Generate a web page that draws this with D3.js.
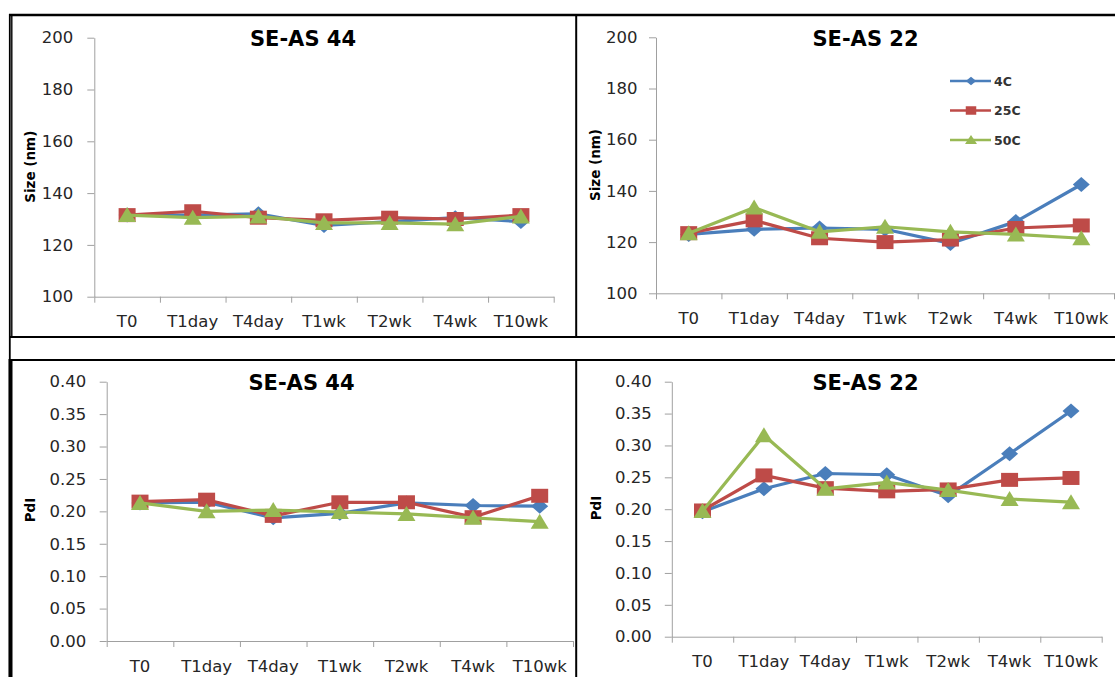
<!DOCTYPE html>
<html>
<head>
<meta charset="utf-8">
<script src="https://cdn.jsdelivr.net/npm/d3@7"></script>
<style>
  html, body { margin: 0; padding: 0; background: #fff; }
  svg { display: block; }
  .tick text { font-family: "DejaVu Sans", sans-serif; font-size: 16.5px; fill: #262626; }
</style>
</head>
<body>
<svg id="chart" width="1115" height="677"></svg>
<script>
// Sampling points
const categories = ["T0", "T1day", "T4day", "T1wk", "T2wk", "T4wk", "T10wk"];
const seriesNames = ["4C", "25C", "50C"];

// Particle size (nm), formulation SE-AS 44
const size44_4C  = [131.5, 131.5, 132.0, 127.5, 129.0, 130.5, 129.0];
const size44_25C = [131.5, 133.0, 130.5, 129.5, 130.5, 130.0, 131.5];
const size44_50C = [131.5, 130.5, 131.0, 128.5, 128.5, 128.0, 131.0];

// Particle size (nm), formulation SE-AS 22
const size22_4C  = [123.0, 125.0, 125.5, 125.0, 119.5, 128.0, 142.5];
const size22_25C = [123.5, 128.5, 121.5, 120.0, 121.0, 125.5, 126.5];
const size22_50C = [123.5, 133.5, 124.0, 126.0, 124.0, 123.0, 121.5];

// Polydispersity index, SE-AS 44
const pdi44_4C  = [0.213, 0.214, 0.190, 0.197, 0.213, 0.209, 0.208];
const pdi44_25C = [0.215, 0.218, 0.193, 0.214, 0.214, 0.191, 0.224];
const pdi44_50C = [0.213, 0.200, 0.202, 0.199, 0.196, 0.190, 0.184];

// Polydispersity index, SE-AS 22
const pdi22_4C  = [0.196, 0.232, 0.256, 0.254, 0.221, 0.287, 0.354];
const pdi22_25C = [0.198, 0.253, 0.233, 0.228, 0.231, 0.246, 0.249];
const pdi22_50C = [0.197, 0.316, 0.232, 0.242, 0.230, 0.216, 0.211];

// Axis tick values
const sizeTicks = [100, 120, 140, 160, 180, 200];
const pdiTicks = [0, 0.05, 0.10, 0.15, 0.20, 0.25, 0.30, 0.35, 0.40];

const colors = ["#4A7EBB", "#BE4B48", "#98B954"];

// Marker shapes (width / height in px)
function markerPath(kind, w, h) {
  const a = w / 2, b = h / 2;
  if (kind === 0) return `M0,${-b}L${a},0L0,${b}L${-a},0Z`;
  if (kind === 1) return `M${-a},${-b}H${a}V${b}H${-a}Z`;
  return `M0,${-b - 1}L${a},${b}L${-a},${b}Z`;
}
const markerSize = [[17, 15], [17, 14], [18, 14]];

const svg = d3.select("#chart");
svg.append("rect").attr("width", 1115).attr("height", 677).attr("fill", "#fff");

const panels = [
  { title: "SE-AS 44", yLabel: "Size (nm)", series: [size44_4C, size44_25C, size44_50C],
    domain: [100, 200], ticks: sizeTicks, fmt: d3.format("d"),
    x0: 94.3, x1: 553.7, yTop: 37.7, yBot: 296.7, pad: 14, tx: 303, ty: 45.5, lx: 34.5, ly: 166.7 },
  { title: "SE-AS 22", yLabel: "Size (nm)", series: [size22_4C, size22_25C, size22_50C],
    domain: [100, 200], ticks: sizeTicks, fmt: d3.format("d"),
    x0: 656, x1: 1114, yTop: 37.3, yBot: 293.3, pad: 11.5, tx: 865.5, ty: 45.5, lx: 599.5, ly: 165, legend: true },
  { title: "SE-AS 44", yLabel: "PdI", series: [pdi44_4C, pdi44_25C, pdi44_50C],
    domain: [0, 0.4], ticks: pdiTicks, fmt: d3.format(".2f"),
    x0: 106.7, x1: 573, yTop: 381.7, yBot: 641, pad: 13.5, tx: 301.5, ty: 390, lx: 34.5, ly: 510 },
  { title: "SE-AS 22", yLabel: "PdI", series: [pdi22_4C, pdi22_25C, pdi22_50C],
    domain: [0, 0.4], ticks: pdiTicks, fmt: d3.format(".2f"),
    x0: 671.8, x1: 1101.7, yTop: 381.7, yBot: 636.7, pad: 13, tx: 865.5, ty: 390, lx: 601, ly: 508 }
];

panels.forEach(p => {
  const g = svg.append("g");
  const x = d3.scaleBand().domain(categories).range([p.x0, p.x1]).padding(0);
  const xb = d3.scaleLinear().domain([0, categories.length]).range([p.x0, p.x1]);
  const y = d3.scaleLinear().domain(p.domain).range([p.yBot, p.yTop]);

  // value axis
  const ya = g.append("g").attr("transform", `translate(${p.x0},0)`)
    .call(d3.axisLeft(y).tickValues(p.ticks).tickFormat(p.fmt).tickSize(7).tickSizeOuter(0).tickPadding(p.pad));
  ya.select(".domain").attr("stroke", "#a0a0a0");
  ya.selectAll(".tick line").attr("stroke", "#a0a0a0");

  // category axis: boundary ticks
  const xa = g.append("g").attr("transform", `translate(0,${p.yBot})`)
    .call(d3.axisBottom(xb).tickValues(d3.range(categories.length + 1)).tickFormat("").tickSize(6).tickSizeOuter(0));
  xa.select(".domain").attr("stroke", "#a0a0a0");
  xa.selectAll(".tick line").attr("stroke", "#a0a0a0");

  // category labels
  const xl = g.append("g").attr("transform", `translate(0,${p.yBot})`)
    .call(d3.axisBottom(x).tickSize(0));
  xl.select(".domain").remove();
  xl.selectAll(".tick text").attr("y", 0).attr("dy", 30.5);

  // title
  g.append("text").attr("x", p.tx).attr("y", p.ty).attr("text-anchor", "middle")
    .attr("font-family", "DejaVu Sans, sans-serif").attr("font-weight", "bold")
    .attr("font-size", 21).attr("fill", "#000").text(p.title);

  // y axis title
  g.append("text").attr("transform", `translate(${p.lx},${p.ly}) rotate(-90)`)
    .attr("text-anchor", "middle").attr("font-family", "DejaVu Sans, sans-serif")
    .attr("font-weight", "bold").attr("font-size", 13.5).attr("fill", "#000").text(p.yLabel);

  // series: line then markers, one series after another
  const line = d3.line().x((d, i) => x(categories[i]) + x.bandwidth() / 2).y(d => y(d));
  p.series.forEach((vals, si) => {
    const sg = g.append("g");
    sg.append("path").datum(vals).attr("d", line).attr("fill", "none")
      .attr("stroke", colors[si]).attr("stroke-width", 3.2).attr("stroke-linejoin", "round");
    sg.selectAll("path.m").data(vals).join("path").attr("class", "m")
      .attr("transform", (d, i) => `translate(${x(categories[i]) + x.bandwidth() / 2},${y(d)})`)
      .attr("d", markerPath(si, markerSize[si][0], markerSize[si][1]))
      .attr("fill", colors[si]);
  });

  if (p.legend) {
    const lg = g.append("g");
    const ly = [81, 110.5, 140];
    seriesNames.forEach((name, si) => {
      lg.append("line").attr("x1", 950).attr("x2", 991).attr("y1", ly[si]).attr("y2", ly[si])
        .attr("stroke", colors[si]).attr("stroke-width", 2.6);
      lg.append("path").attr("transform", `translate(971,${ly[si]})`)
        .attr("d", markerPath(si, si === 2 ? 12 : 10.5, si === 2 ? 8 : 8.5)).attr("fill", colors[si]);
      lg.append("text").attr("x", 994).attr("y", ly[si] + 4.8)
        .attr("font-family", "DejaVu Sans, sans-serif").attr("font-weight", "bold")
        .attr("font-size", 12.5).attr("fill", "#333").text(name);
    });
  }
});

// frame lines separating the panels
const frame = svg.append("g").attr("stroke", "#000").attr("fill", "none");
frame.append("line").attr("x1", 9).attr("x2", 1115).attr("y1", 15).attr("y2", 15).attr("stroke-width", 2.5);
frame.append("line").attr("x1", 9).attr("x2", 1115).attr("y1", 337).attr("y2", 337).attr("stroke-width", 2);
frame.append("line").attr("x1", 9).attr("x2", 1115).attr("y1", 360).attr("y2", 360).attr("stroke-width", 2);
frame.append("line").attr("x1", 9.8).attr("x2", 9.8).attr("y1", 14).attr("y2", 677).attr("stroke-width", 1.8);
frame.append("line").attr("x1", 11.8).attr("x2", 11.8).attr("y1", 14).attr("y2", 338).attr("stroke-width", 1.4);
frame.append("line").attr("x1", 10.5).attr("x2", 10.5).attr("y1", 359).attr("y2", 677).attr("stroke-width", 4);
frame.append("line").attr("x1", 576.2).attr("x2", 576.2).attr("y1", 14).attr("y2", 338).attr("stroke-width", 2);
frame.append("line").attr("x1", 576.2).attr("x2", 576.2).attr("y1", 359).attr("y2", 677).attr("stroke-width", 2);
</script>
</body>
</html>
